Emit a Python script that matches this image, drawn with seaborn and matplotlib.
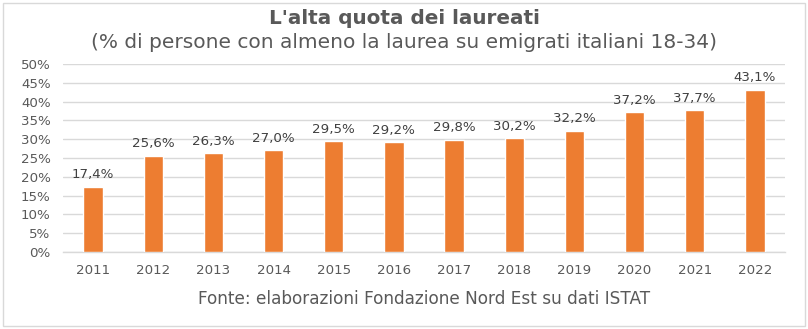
import matplotlib
matplotlib.use("Agg")
import matplotlib.pyplot as plt
import seaborn as sns
import pandas as pd
from matplotlib.patches import Rectangle

years = ["2011", "2012", "2013", "2014", "2015", "2016",
         "2017", "2018", "2019", "2020", "2021", "2022"]
shares = [17.4, 25.6, 26.3, 27.0, 29.5, 29.2, 29.8, 30.2, 32.2, 37.2, 37.7, 43.1]
y_ticks = [0, 5, 10, 15, 20, 25, 30, 35, 40, 45, 50]

title = "L'alta quota dei laureati"
subtitle = "(% di persone con almeno la laurea su emigrati italiani 18-34)"
source = "Fonte: elaborazioni Fondazione Nord Est su dati ISTAT"

sns.set_theme(style="white")
plt.rcParams["font.family"] = ["DejaVu Sans"]

text_gray = "#595959"
bar_color = "#ED7D31"
grid_gray = "#D9D9D9"

W, H = 808, 329
fig = plt.figure(figsize=(W / 100, H / 100), dpi=100)
ax = fig.add_axes([63 / W, 1 - 252 / H, (785 - 63) / W, (252 - 64) / H])

df = pd.DataFrame({"anno": years, "quota": shares})
sns.barplot(data=df, x="anno", y="quota", color=bar_color, width=0.32,
            saturation=1, ax=ax, zorder=3)

ax.set_ylim(0, 50)
ax.set_xlim(-0.5, len(years) - 0.5)
ax.set_yticks(y_ticks)
ax.set_yticklabels([f"{t}%" for t in y_ticks])
ax.set_ylabel("")
ax.grid(axis="y", color=grid_gray, linewidth=1.0, zorder=0)
ax.grid(axis="x", visible=False)
for side in ("left", "right", "top"):
    ax.spines[side].set_visible(False)
ax.spines["bottom"].set_color(grid_gray)
ax.spines["bottom"].set_linewidth(1.0)
ax.tick_params(axis="y", length=0, pad=9, labelsize=9.6, labelcolor=text_gray)
ax.tick_params(axis="x", length=0, pad=9, labelsize=9.6, labelcolor=text_gray)

# source note sits under the year labels as the x-axis title
ax.set_xlabel(source, fontsize=12.2, color=text_gray, labelpad=9)

for i, v in enumerate(shares):
    ax.annotate(f"{v:.1f}%".replace(".", ","), (i, v), xytext=(0, 4),
                textcoords="offset points", ha="center", va="bottom",
                fontsize=9.6, color="#404040")

fig.text(0.5, 1 - 19 / H, title, ha="center", va="center",
         fontsize=14.4, fontweight="bold", color=text_gray)
fig.text(0.5, 1 - 43 / H, subtitle, ha="center", va="center",
         fontsize=14.5, color=text_gray)

fig.patches.append(Rectangle((3 / W, 3 / H), (W - 6) / W, (H - 6) / H,
                             transform=fig.transFigure, fill=False,
                             edgecolor=grid_gray, linewidth=1.0))

fig.savefig("out.png", dpi=100, facecolor="white")
